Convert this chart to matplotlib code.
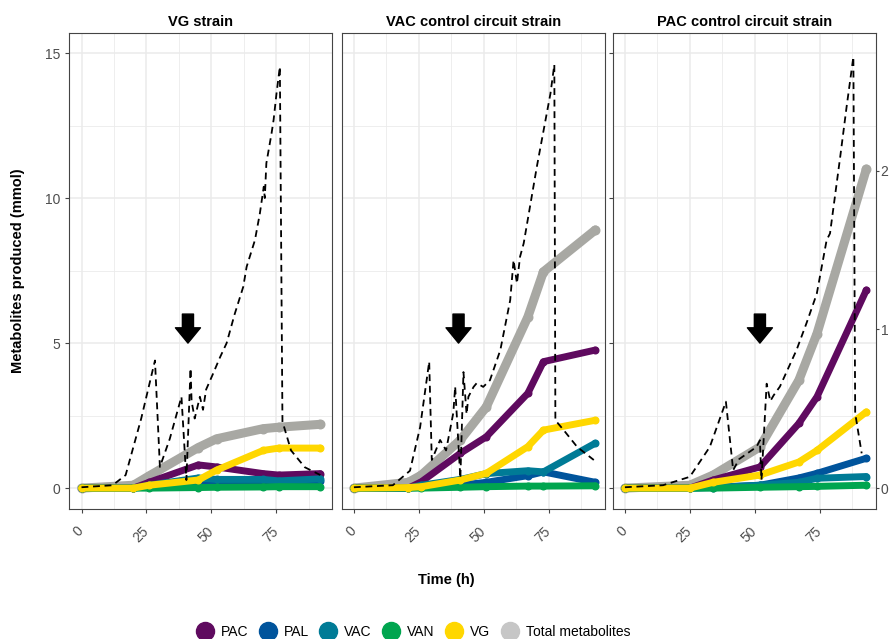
import numpy as np
import matplotlib.pyplot as plt
from matplotlib.lines import Line2D

plt.rcParams['font.family'] = ['Liberation Sans', 'DejaVu Sans']

titles = ["VG strain", "VAC control circuit strain", "PAC control circuit strain"]
names = ["PAC", "PAL", "VAC", "VAN", "VG", "Total metabolites"]
colours = ["#5f0a5f", "#00549c", "#007b96", "#00a54f", "#ffd700", "#a8a8a3"]
legend_grey = "#c6c6c6"

# metabolites (mmol), one set per strain
t_vg = [0, 20, 26, 45, 52, 70, 76, 92]
vg_pac = [0, 0, 0.2, 0.8, 0.73, 0.5, 0.45, 0.5]
vg_pal = [0, 0, 0.05, 0.1, 0.15, 0.2, 0.2, 0.25]
vg_vac = [0, 0, 0.1, 0.35, 0.3, 0.3, 0.25, 0.32]
vg_van = [0, 0, 0, 0.02, 0.03, 0.04, 0.05, 0.05]
vg_vg = [0, 0, 0.1, 0.28, 0.62, 1.3, 1.38, 1.38]
vg_tot = [0, 0.1, 0.42, 1.4, 1.7, 2.05, 2.1, 2.2]

t_vac = [0, 21, 26, 41, 51, 67, 73, 93]
vac_pac = [0, 0, 0.22, 1.2, 1.77, 3.27, 4.36, 4.76]
vac_pal = [0, 0, 0.03, 0.1, 0.2, 0.43, 0.56, 0.2]
vac_vac = [0, 0, 0.1, 0.3, 0.5, 0.6, 0.56, 1.55]
vac_van = [0, 0, 0, 0.03, 0.05, 0.07, 0.07, 0.08]
vac_vg = [0, 0.02, 0.05, 0.28, 0.51, 1.43, 2.0, 2.34]
vac_tot = [0, 0.2, 0.45, 1.66, 2.8, 5.9, 7.46, 8.9]

t_pac = [0, 25, 34, 52, 67, 74, 93]
pac_pac = [0, 0, 0.28, 0.73, 2.23, 3.15, 6.83]
pac_pal = [0, 0, 0.02, 0.1, 0.35, 0.51, 1.03]
pac_vac = [0, 0, 0.03, 0.1, 0.2, 0.34, 0.4]
pac_van = [0, 0, 0, 0.03, 0.05, 0.06, 0.1]
pac_vg = [0, 0, 0.2, 0.45, 0.9, 1.3, 2.63]
pac_tot = [0, 0.1, 0.45, 1.42, 3.72, 5.33, 11.0]

# dashed trace
d_t_vg = [0, 12, 17, 23, 28.3, 30.2, 34, 38.5, 40.4, 42, 42.4, 43.6, 45.6, 46.8, 48,
          50.7, 53.3, 55.9, 59, 62.3, 63.6, 66.8, 68.7, 70.2, 70.6, 71.2, 73.2, 74,
          75.1, 75.8, 76.4, 77.4, 80.7, 86, 92]
d_vg = [0.03, 0.1, 0.45, 2.4, 4.4, 0.73, 1.7, 3.15, 0.28, 4.13, 3.0, 2.4, 3.15, 2.7, 3.4,
        3.95, 4.5, 5.0, 6.0, 6.94, 7.63, 8.55, 9.47, 10.39, 10.0, 11.2, 12.23, 12.7,
        13.6, 14.1, 14.53, 2.3, 1.3, 0.72, 0.45]
d_t_vac = [0, 15, 21.6, 25.5, 29, 30, 33.2, 35.5, 38.3, 39, 41, 42.2, 43.4, 44.1, 46.1,
           47.3, 49.8, 52.4, 56.4, 60.2, 61.5, 62.8, 64, 65.4, 70.5, 75.7, 77.2, 77.6,
           80.8, 86, 92.4]
d_vac = [0.03, 0.1, 0.6, 2.1, 4.36, 0.97, 1.66, 1.3, 2.6, 3.5, 0.34, 4.0, 2.55, 3.15, 3.49,
         3.62, 3.49, 3.72, 4.76, 6.48, 7.86, 7.06, 7.98, 8.44, 11.1, 13.6, 14.6, 2.34,
         2.0, 1.42, 0.97]
d_t_pac = [0, 14.7, 25, 32.7, 38.9, 41.7, 44, 50.7, 52, 52.6, 54.6, 56, 57.3, 59.7, 66.1,
           70, 73.9, 77.7, 79, 82.9, 85.4, 88, 88.7, 91.2]
d_pac = [0.03, 0.1, 0.39, 1.42, 2.98, 0.62, 1.0, 1.42, 1.65, 0.28, 3.6, 3.0, 3.2, 3.5, 4.76,
         5.7, 6.7, 8.55, 8.78, 11.4, 13.15, 14.87, 2.58, 1.2]

arrow_x = [41, 40.3, 52]

panels = [
    (t_vg, [vg_pac, vg_pal, vg_vac, vg_van, vg_vg, vg_tot], d_t_vg, d_vg),
    (t_vac, [vac_pac, vac_pal, vac_vac, vac_van, vac_vg, vac_tot], d_t_vac, d_vac),
    (t_pac, [pac_pac, pac_pal, pac_vac, pac_van, pac_vg, pac_tot], d_t_pac, d_pac),
]

fig = plt.figure(figsize=(8.89, 6.39), dpi=100)
W, H = 889, 639
lefts = [69.3, 341.7, 612.7]
width = 263
top, bottom = 33.3, 509.3

axes = []
for i, (t, series, dt, dv) in enumerate(panels):
    ax = fig.add_axes([lefts[i] / W, 1 - bottom / H, width / W, (bottom - top) / H])
    axes.append(ax)
    # grey total underneath, then the single metabolites
    order = [5, 0, 1, 2, 3, 4]
    for k in order:
        lw = 6.5 if k == 5 else 5
        ax.plot(t, series[k], color=colours[k], lw=lw, solid_capstyle='round',
                solid_joinstyle='round', marker='o', ms=lw * 0.95, zorder=2 + order.index(k))
    ax.plot(dt, dv, color='black', lw=1.3, dashes=(3.8, 2.6), zorder=10)
    ax.annotate('', xy=(arrow_x[i], 5.0), xytext=(arrow_x[i], 6.0),
                arrowprops=dict(arrowstyle='simple,head_length=1.1,head_width=1.8,tail_width=0.8',
                                fc='black', ec='black', shrinkA=0, shrinkB=0), zorder=11)

    ax.set_xlim(-4.7, 96.6)
    ax.set_ylim(-0.73, 15.68)
    ax.set_xticks([0, 25, 50, 75])
    ax.set_xticks([12.5, 37.5, 62.5, 87.5], minor=True)
    ax.set_yticks([0, 5, 10, 15])
    ax.set_yticks([2.5, 7.5, 12.5], minor=True)
    ax.grid(which='major', color='#ebebeb', lw=1.1)
    ax.grid(which='minor', color='#ebebeb', lw=0.6)
    ax.set_axisbelow(True)
    for s in ax.spines.values():
        s.set_color('#444444')
        s.set_linewidth(0.8)
    ax.tick_params(which='minor', length=0)
    ax.tick_params(which='major', length=3, width=0.8, color='#444444',
                   labelsize=10, labelcolor='#4d4d4d')
    for lab in ax.get_xticklabels():
        lab.set_rotation(45)
        lab.set_ha('right')
        lab.set_va('center')
        lab.set_rotation_mode('anchor')
    ax.tick_params(axis='x', pad=11)
    if i > 0:
        ax.tick_params(axis='y', left=False, labelleft=False)
    ax.set_title(titles[i], fontsize=10.5, fontweight='bold', pad=5)

# secondary axis on the last panel
ax2 = axes[2].twinx()
ax2.set_ylim(-0.73 / 5.47, 15.68 / 5.47)
ax2.set_yticks([0, 1, 2])
ax2.tick_params(length=2.5, width=0.8, color='#444444', labelsize=10, labelcolor='#4d4d4d',
                pad=1)
for s in ax2.spines.values():
    s.set_visible(False)

fig.text(18 / W, 1 - 271 / H, "Metabolites produced (mmol)", rotation=90,
         ha='center', va='center', fontsize=10.5, fontweight='bold')
fig.text(446 / W, 1 - 580 / H, "Time (h)", ha='center', va='center',
         fontsize=10.5, fontweight='bold')

handles = []
for k in range(6):
    c = legend_grey if k == 5 else colours[k]
    handles.append(Line2D([], [], ls='none', marker='o', ms=13, color=c))
fig.legend(handles, names, loc='center', bbox_to_anchor=(0.465, 0.011), ncol=6,
           frameon=False, fontsize=10, handletextpad=0.55, columnspacing=0.8,
           handlelength=1.2)

plt.savefig("out.png", dpi=100)
